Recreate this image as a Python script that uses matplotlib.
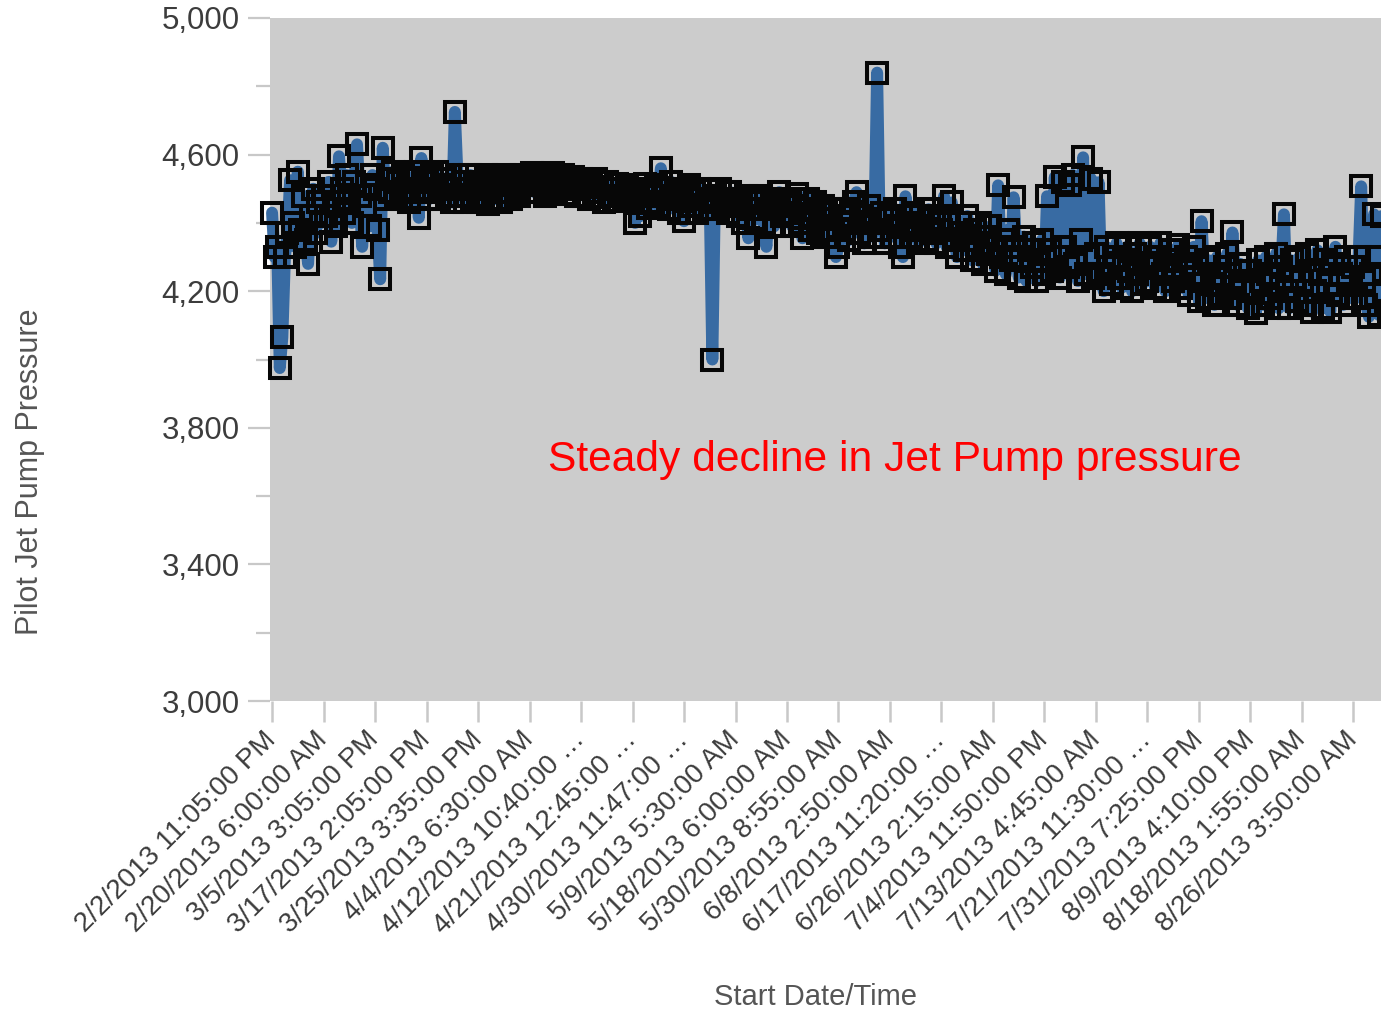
import numpy as np
import matplotlib.pyplot as plt
from matplotlib.ticker import FixedLocator, FuncFormatter

plt.rcParams["font.family"] = ["Liberation Sans", "DejaVu Sans"]

# tick labels shown every 20 readings
tick_labels = [
    "2/2/2013 11:05:00 PM", "2/20/2013 6:00:00 AM", "3/5/2013 3:05:00 PM",
    "3/17/2013 2:05:00 PM", "3/25/2013 3:35:00 PM", "4/4/2013 6:30:00 AM",
    "4/12/2013 10:40:00 \u2026", "4/21/2013 12:45:00 \u2026", "4/30/2013 11:47:00 \u2026",
    "5/9/2013 5:30:00 AM", "5/18/2013 6:00:00 AM", "5/30/2013 8:55:00 AM",
    "6/8/2013 2:50:00 AM", "6/17/2013 11:20:00 \u2026", "6/26/2013 2:15:00 AM",
    "7/4/2013 11:50:00 PM", "7/13/2013 4:45:00 AM", "7/21/2013 11:30:00 \u2026",
    "7/31/2013 7:25:00 PM", "8/9/2013 4:10:00 PM", "8/18/2013 1:55:00 AM",
    "8/26/2013 3:50:00 AM",
]
readings_per_label = 20

y_major = [3000, 3400, 3800, 4200, 4600, 5000]
y_minor = [3200, 3600, 4000, 4400, 4800]

# pilot jet pump pressure readings, one row per label
pressure = [
    4430, 4300, 4330, 3975, 4065, 4300, 4370, 4525, 4400, 4330, 4550, 4380, 4480, 4350, 4280, 4420, 4500, 4370, 4460, 4400,
    4480, 4420, 4520, 4345, 4460, 4390, 4595, 4500, 4430, 4540, 4470, 4400, 4520, 4630, 4480, 4330, 4450, 4510, 4390, 4540,
    4500, 4380, 4235, 4620, 4470, 4530, 4490, 4550, 4480, 4520, 4470, 4540, 4500, 4460, 4530, 4490, 4550, 4415, 4590, 4500,
    4520, 4470, 4540, 4490, 4550, 4470, 4510, 4530, 4480, 4500, 4460, 4725, 4540, 4480, 4520, 4460, 4500, 4540, 4470, 4510,
    4460, 4520, 4480, 4540, 4455, 4500, 4530, 4470, 4510, 4460, 4540, 4490, 4520, 4470, 4530, 4500, 4480, 4540, 4510, 4490,
    4520, 4545, 4490, 4530, 4510, 4540, 4480, 4520, 4500, 4545, 4490, 4530, 4510, 4540, 4485, 4520, 4500, 4535, 4480, 4510,
    4530, 4480, 4510, 4470, 4520, 4490, 4530, 4475, 4505, 4460, 4520, 4480, 4500, 4465, 4515, 4480, 4500, 4470, 4510, 4490,
    4470, 4400, 4500, 4420, 4480, 4515, 4445, 4490, 4460, 4510, 4450, 4560, 4480, 4500, 4440, 4520, 4470, 4490, 4430, 4500,
    4405, 4480, 4510, 4450, 4490, 4430, 4500, 4470, 4440, 4495, 4460, 4000, 4480, 4440, 4500, 4450, 4470, 4430, 4490, 4460,
    4470, 4420, 4450, 4400, 4480, 4355, 4440, 4470, 4410, 4460, 4480, 4400, 4330, 4440, 4470, 4390, 4450, 4490, 4420, 4460,
    4430, 4470, 4390, 4450, 4485, 4400, 4355, 4440, 4470, 4380, 4420, 4460, 4370, 4430, 4450, 4360, 4410, 4440, 4380, 4300,
    4330, 4420, 4380, 4440, 4350, 4400, 4460, 4490, 4370, 4420, 4340, 4400, 4450, 4360, 4410, 4840, 4380, 4430, 4340, 4410,
    4420, 4360, 4440, 4390, 4330, 4300, 4478, 4400, 4360, 4430, 4380, 4340, 4420, 4390, 4350, 4440, 4370, 4410, 4340, 4400,
    4380, 4478, 4330, 4410, 4460, 4350, 4300, 4400, 4370, 4320, 4420, 4350, 4290, 4380, 4330, 4400, 4280, 4360, 4310, 4390,
    4330, 4260, 4510, 4300, 4350, 4250, 4380, 4290, 4475, 4330, 4240, 4300, 4360, 4230, 4320, 4270, 4340, 4230, 4290, 4350,
    4250, 4478, 4320, 4260, 4534, 4300, 4240, 4520, 4330, 4270, 4510, 4540, 4280, 4230, 4350, 4592, 4250, 4300, 4530, 4240,
    4310, 4519, 4250, 4200, 4330, 4270, 4220, 4300, 4340, 4240, 4210, 4290, 4330, 4260, 4200, 4310, 4250, 4340, 4220, 4280,
    4230, 4330, 4270, 4210, 4300, 4340, 4250, 4200, 4290, 4320, 4230, 4270, 4335, 4210, 4260, 4300, 4190, 4280, 4330, 4240,
    4170, 4405, 4250, 4180, 4290, 4220, 4160, 4300, 4240, 4190, 4270, 4310, 4180, 4372, 4230, 4160, 4280, 4210, 4260, 4150,
    4260, 4200, 4135, 4290, 4230, 4160, 4300, 4250, 4180, 4220, 4310, 4150, 4270, 4425, 4200, 4150, 4290, 4240, 4170, 4300,
    4230, 4160, 4310, 4260, 4140, 4200, 4320, 4250, 4150, 4290, 4220, 4140, 4280, 4330, 4190, 4250, 4160, 4300, 4230, 4180,
    4270, 4180, 4300, 4507, 4230, 4160, 4125, 4250, 4425, 4300, 4130, 4420, 4200,
]

note_text = "Steady decline in Jet Pump pressure"

fig = plt.figure(figsize=(13.81, 10.11), dpi=100)
ax = fig.add_axes([0.1955, 0.3066, 0.8045, 0.6756])
ax.set_facecolor("#cccccc")

x = np.arange(len(pressure))
ax.plot(
    x, pressure,
    color="#386ba3", linewidth=8.6,
    solid_capstyle="round", solid_joinstyle="round",
    marker="s", markersize=13.9, markerfacecolor="none",
    markeredgecolor="#070707", markeredgewidth=2.9,
    clip_on=False, zorder=3,
)

ax.set_xlim(-0.8, 430.7)
ax.set_ylim(3000, 5000)

for side in ["top", "right", "bottom", "left"]:
    ax.spines[side].set_visible(False)

tick_pos = np.arange(len(tick_labels)) * readings_per_label
ax.set_xticks(tick_pos)
ax.set_xticklabels(tick_labels, rotation=45, ha="right", va="center",
                   rotation_mode="anchor", fontsize=20, color="#3c3c3c")

ax.yaxis.set_major_locator(FixedLocator(y_major))
ax.yaxis.set_minor_locator(FixedLocator(y_minor))
ax.yaxis.set_major_formatter(FuncFormatter(lambda v, p: f"{int(v):,}"))
ax.tick_params(axis="y", which="major", length=16, width=1.6, color="#c8c8c8",
               labelsize=22.5, labelcolor="#3c3c3c", pad=6)
ax.tick_params(axis="y", which="minor", length=10, width=1.6, color="#c8c8c8")
ax.tick_params(axis="x", which="major", length=15, width=1.8, color="#c8c8c8", pad=10)

fig.text(30 / 1381, 1 - 472 / 1011, "Pilot Jet Pump Pressure", rotation=90,
         fontsize=22, color="#555555", ha="center", va="center")
fig.text(815 / 1381, 1 - 997 / 1011, "Start Date/Time",
         fontsize=21, color="#555555", ha="center", va="center")

ax.text(107, 3707, note_text, color="red", fontsize=30.7, ha="left", va="center")

fig.savefig("out.png", dpi=100)
plt.close(fig)
